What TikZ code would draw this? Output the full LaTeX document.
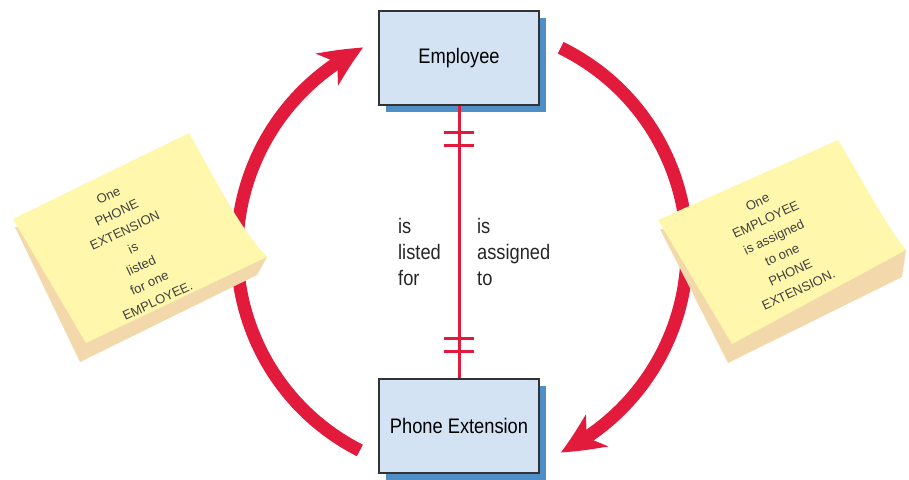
\documentclass[tikz,border=0pt]{standalone}
\usepackage{fontspec}
\setmainfont{Liberation Sans}[FakeStretch=0.87]
\newfontfamily\notefont{Liberation Sans}
\usetikzlibrary{arrows.meta,bending,shadows}
\definecolor{erdred}{HTML}{E21A3B}
\definecolor{boxblue}{HTML}{D4E3F4}
\definecolor{shadowblue}{HTML}{4E8FC7}
\definecolor{noteyellow}{HTML}{FFF7AC}
\definecolor{notebeige}{HTML}{F2D8AA}
\tikzset{>=stealth,
  entity/.style={draw=black!80, line width=0.6pt, fill=boxblue, minimum width=80pt, minimum height=47pt,
    font=\fontsize{10.5}{13}\selectfont,
    drop shadow={shadow xshift=3.5pt, shadow yshift=-3.5pt, fill=shadowblue, opacity=1}},
  relline/.style={erdred, line width=1.5pt},
  bigarrow/.style={erdred, line width=6.5pt, -{Stealth[length=21pt,width=19pt,inset=6pt,bend]}},
  notetext/.style={font=\notefont\fontsize{6.5}{9.7}\selectfont, text=black!75, align=center},
  rellabel/.style={font=\fontsize{10.5}{13}\selectfont, align=left, text=black!85}
}
\begin{document}
\begin{tikzpicture}[x=0.5pt, y=0.5pt]
\useasboundingbox (0,0) rectangle (909,479);
% circle of the two arrows
\coordinate (C) at (462,229);
\draw[bigarrow] ([shift=(243:225)]C) arc[start angle=243, end angle=116, radius=225];
\draw[bigarrow] ([shift=(64:225)]C) arc[start angle=64, end angle=-64, radius=225];
% entities
\node[entity] (emp) at (459,421) {Employee};
\node[entity] (ext) at (459,53) {Phone Extension};
\draw[relline] (emp) -- (ext)
  node[rellabel, midway, left=5pt, yshift=-5pt] {is\\listed\\for}
  node[rellabel, midway, right=5pt, yshift=-5pt] {is\\assigned\\to};
\foreach \d in {13.5pt,20pt}
{
\draw[relline] ([xshift=-7.5pt,yshift=-\d]emp.south) -- ([xshift=7.5pt,yshift=-\d]emp.south);
\draw[relline] ([xshift=-7.5pt,yshift=\d]ext.north) -- ([xshift=7.5pt,yshift=\d]ext.north);
}
% left note
\fill[notebeige] (15,252) -- (80,117) -- (257,204) -- (267,222) -- cycle;
\fill[noteyellow] (13,260) -- (189,346) .. controls (215,300) and (240,250) .. (267,222) -- (86,136) -- cycle;
\node[notetext, rotate=25] (leftnote) at (133,231) {One\\PHONE\\EXTENSION\\is\\listed\\for one\\EMPLOYEE.};
% right note
\fill[notebeige] (660,250) -- (728,116) -- (902,202) -- (906,229) -- cycle;
\fill[noteyellow] (658,259) -- (838,339) .. controls (862,300) and (885,255) .. (906,229) -- (732,135) -- cycle;
\node[notetext, rotate=25] (rightnote) at (778,233) {One\\EMPLOYEE\\is assigned\\to one\\PHONE\\EXTENSION.};
\end{tikzpicture}
\end{document}
